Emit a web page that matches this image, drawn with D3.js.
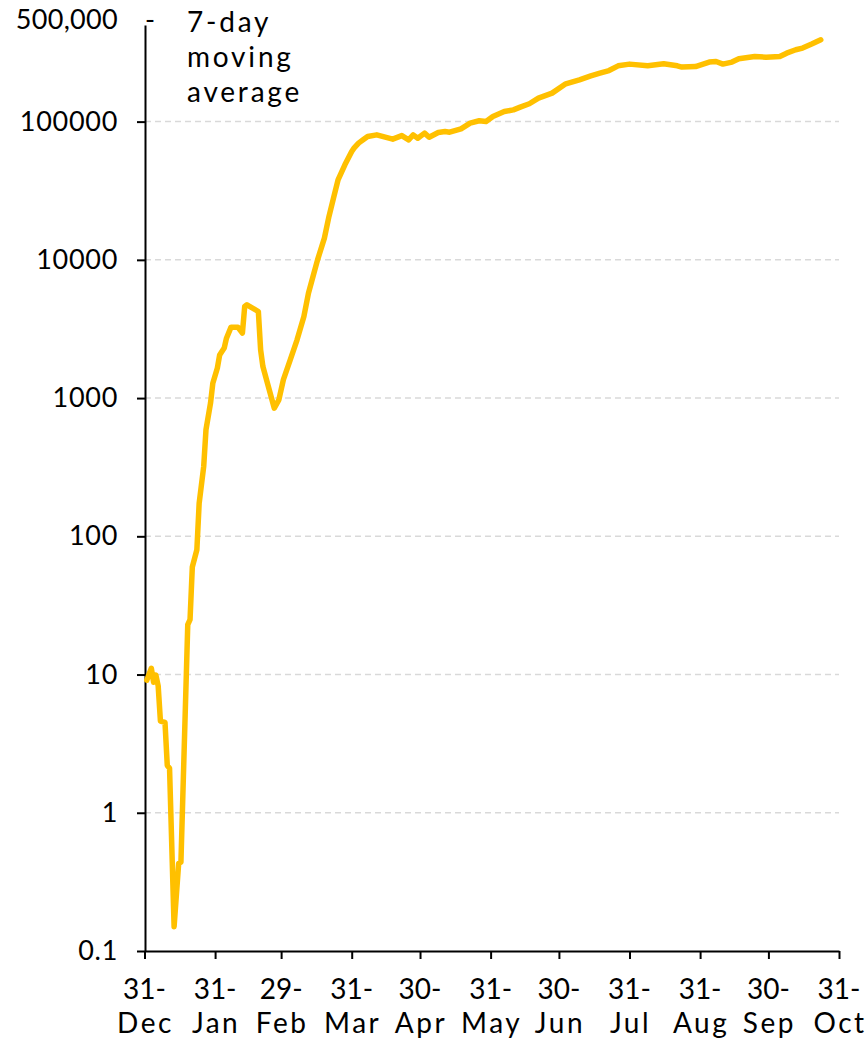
<!DOCTYPE html>
<html>
<head>
<meta charset="utf-8">
<script src="https://cdn.jsdelivr.net/npm/d3@7"></script>
<style>
  html, body { margin: 0; padding: 0; background: #ffffff; }
  svg { display: block; }
  text { font-family: "Lato", "DejaVu Sans", sans-serif; fill: #000; }
</style>
</head>
<body>
<svg id="chart" width="868" height="1041"></svg>
<script>
// 7-day moving average of daily cases (log scale)
const dates = [
  "2020-01-01","2020-01-03","2020-01-04","2020-01-05","2020-01-06","2020-01-07","2020-01-09",
  "2020-01-10","2020-01-11","2020-01-13","2020-01-15","2020-01-16","2020-01-19","2020-01-20",
  "2020-01-21","2020-01-23","2020-01-24","2020-01-26","2020-01-27","2020-01-29","2020-01-30",
  "2020-02-01","2020-02-02","2020-02-04","2020-02-05","2020-02-07","2020-02-10","2020-02-12",
  "2020-02-13","2020-02-14","2020-02-19","2020-02-20","2020-02-21","2020-02-23","2020-02-26",
  "2020-02-28","2020-03-01","2020-03-04","2020-03-07","2020-03-10","2020-03-12","2020-03-14",
  "2020-03-16","2020-03-19","2020-03-21","2020-03-23","2020-03-25","2020-03-28","2020-03-31",
  "2020-04-01","2020-04-03","2020-04-05","2020-04-07","2020-04-11","2020-04-18","2020-04-22",
  "2020-04-25","2020-04-27","2020-04-29","2020-05-02","2020-05-04","2020-05-08","2020-05-11",
  "2020-05-13","2020-05-18","2020-05-22","2020-05-26","2020-05-29","2020-06-01","2020-06-06",
  "2020-06-10","2020-06-13","2020-06-17","2020-06-21","2020-06-27","2020-07-03","2020-07-09",
  "2020-07-14","2020-07-18","2020-07-22","2020-07-26","2020-07-31","2020-08-08","2020-08-15",
  "2020-08-21","2020-08-23","2020-08-29","2020-09-04","2020-09-07","2020-09-10","2020-09-14",
  "2020-09-17","2020-09-24","2020-09-29","2020-10-05","2020-10-08","2020-10-12","2020-10-15",
  "2020-10-19","2020-10-23"
];
const movingAverage = [
  9.1, 11.1, 8.8, 9.9, 8.3, 4.6, 4.5,
  2.2, 2.1, 0.15, 0.43, 0.44, 23, 25,
  60, 80, 173, 320, 590, 920, 1280,
  1650, 2050, 2300, 2710, 3260, 3260, 2950,
  4600, 4730, 4230, 2230, 1690, 1280, 845,
  970, 1360, 1890, 2640, 3890, 5740, 7570,
  10000, 14360, 20570, 27930, 37930, 48660, 60810,
  64300, 69860, 73860, 78000, 80200, 74650, 79260,
  73860, 80200, 75860, 82600, 77100, 83400, 84700,
  83800, 88700, 97500, 101400, 100200, 108900, 118300,
  121700, 127300, 134600, 147900, 160700, 187600, 200600,
  214300, 224200, 234100, 253300, 260600, 253300, 262000,
  253300, 247900, 250400, 269600, 272300, 260600, 269600,
  284600, 295800, 292700, 295800, 312600, 330900, 340500,
  363900, 390700
];

// axis ticks
const xTickDates = ["2019-12-31","2020-01-31","2020-02-29","2020-03-31","2020-04-30",
  "2020-05-31","2020-06-30","2020-07-31","2020-08-31","2020-09-30","2020-10-31"];
const xTickDays = ["31-","31-","29-","31-","30-","31-","30-","31-","31-","30-","31-"];
const xTickMonths = ["Dec","Jan","Feb","Mar","Apr","May","Jun","Jul","Aug","Sep","Oct"];
const yTickValues = [0.1, 1, 10, 100, 1000, 10000, 100000];
const yTickLabels = ["0.1", "1", "10", "100", "1000", "10000", "100000"];
const yMax = 500000;
const yMaxLabel = "500,000";
const noteLines = ["7-day", "moving", "average"];

const parse = d3.utcParse("%Y-%m-%d");
const series = dates.map((d, i) => ({ date: parse(d), value: movingAverage[i] }));

const svg = d3.select("#chart");
const plotLeft = 145, plotRight = 839, plotTop = 25, plotBottom = 951;

const x = d3.scaleUtc()
  .domain([parse(xTickDates[0]), parse(xTickDates[xTickDates.length - 1])])
  .range([plotLeft - 0.5, plotRight]);
const y = d3.scaleLog().domain([0.1, yMax]).range([plotBottom, plotTop]);

const fontSize = 27;

// dashed gridlines
svg.append("g")
  .selectAll("line")
  .data(yTickValues.slice(1))
  .join("line")
  .attr("x1", plotLeft).attr("x2", plotRight)
  .attr("y1", d => y(d)).attr("y2", d => y(d))
  .attr("stroke", "#d9d9d9")
  .attr("stroke-width", 1.5)
  .attr("stroke-dasharray", "6,4");

// y axis
const yAxis = svg.append("g")
  .attr("transform", `translate(${plotLeft},0)`)
  .call(d3.axisLeft(y)
    .tickValues(yTickValues)
    .tickFormat((d, i) => yTickLabels[i])
    .tickSize(8)
    .tickSizeOuter(0)
    .tickPadding(19));
yAxis.select(".domain").attr("stroke", "#000").attr("stroke-width", 2);
yAxis.selectAll(".tick line").attr("stroke", "#000").attr("stroke-width", 2);
yAxis.selectAll(".tick text")
  .style("font-family", "Lato, 'DejaVu Sans', sans-serif")
  .style("font-size", fontSize + "px")
  .style("letter-spacing", "0.7px")
  .attr("fill", "#000");

// top value label
svg.append("text")
  .attr("x", 118).attr("y", 29)
  .attr("text-anchor", "end")
  .style("font-size", fontSize + "px")
  .style("letter-spacing", "0.3px")
  .text(yMaxLabel);
svg.append("text")
  .attr("x", 145).attr("y", 29)
  .style("font-size", fontSize + "px")
  .text("-");

// x axis
const xAxis = svg.append("g")
  .attr("transform", `translate(0,${plotBottom})`)
  .call(d3.axisBottom(x)
    .tickValues(xTickDates.map(parse))
    .tickFormat("")
    .tickSize(8)
    .tickSizeOuter(0));
xAxis.select(".domain").attr("stroke", "#000").attr("stroke-width", 2);
xAxis.selectAll(".tick line").attr("stroke", "#000").attr("stroke-width", 2);

const xLabels = svg.append("g")
  .selectAll("text")
  .data(xTickDates)
  .join("text")
  .attr("text-anchor", "middle")
  .attr("x", d => x(parse(d)))
  .style("font-size", "28px");
xLabels.append("tspan").attr("x", d => x(parse(d))).attr("y", 999).text((d, i) => xTickDays[i]);
xLabels.append("tspan").attr("x", d => x(parse(d)) + 1).attr("y", 1033)
  .style("letter-spacing", "2.5px")
  .text((d, i) => xTickMonths[i]);

// note
svg.append("g")
  .selectAll("text")
  .data(noteLines)
  .join("text")
  .attr("x", 187)
  .attr("y", (d, i) => 32 + i * 35)
  .style("font-size", "28px")
  .style("letter-spacing", "2.8px")
  .text(d => d);

// line
const line = d3.line()
  .x(d => x(d.date))
  .y(d => y(d.value));
svg.append("path")
  .datum(series)
  .attr("d", line)
  .attr("fill", "none")
  .attr("stroke", "#ffc000")
  .attr("stroke-width", 5.5)
  .attr("stroke-linejoin", "round")
  .attr("stroke-linecap", "round");
</script>
</body>
</html>
